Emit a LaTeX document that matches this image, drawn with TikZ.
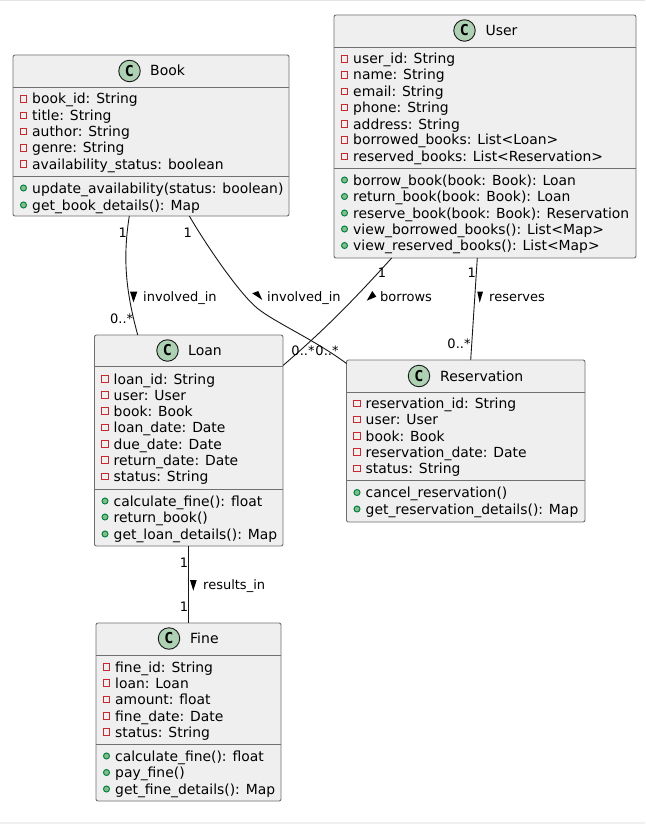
\documentclass[tikz,border=0pt]{standalone}
\usepackage{fontspec}
\setmainfont{DejaVu Sans}
\newfontfamily\iconfont{DejaVu Sans Mono}
\usetikzlibrary{calc}
\definecolor{boxfill}{HTML}{EFEFEF}
\definecolor{boxline}{HTML}{707070}
\definecolor{edgecol}{HTML}{181818}
\definecolor{circfill}{HTML}{ADD1B2}
\definecolor{privcol}{HTML}{C82930}
\definecolor{pubfill}{HTML}{84BE84}
\definecolor{publine}{HTML}{038048}
\tikzset{
  x=1pt,y=-1pt,
  classbox/.style={draw=boxline,fill=boxfill,line width=.9pt,rounded corners=2pt,anchor=north west,inner sep=0pt,outer sep=0pt},
  divider/.style={draw=boxline,line width=.9pt},
  member/.style={anchor=base west,inner sep=0pt,font=\fontsize{13.9}{16}\selectfont,text=black},
  titletext/.style={anchor=base west,inner sep=0pt,font=\fontsize{14}{16}\selectfont,text=black},
  privmark/.style={rectangle,draw=privcol,line width=1pt,fill=none,minimum width=6.2pt,minimum height=6.2pt,inner sep=0pt},
  pubmark/.style={circle,draw=publine,line width=1pt,fill=pubfill,minimum size=6pt,inner sep=0pt},
  cicon/.style={circle,draw=edgecol,line width=.9pt,fill=circfill,minimum size=21.5pt,inner sep=0pt,font=\iconfont\fontsize{15}{15}\selectfont\bfseries,text=black},
  edge/.style={draw=edgecol,line width=.9pt},
  elabel/.style={anchor=base west,inner sep=0pt,font=\fontsize{13}{15}\selectfont,text=black},
  mult/.style={anchor=base,inner sep=0pt,font=\fontsize{13}{15}\selectfont,text=black},
  dirmark/.style={fill=black,draw=none},
  toprule/.style={draw=black!11,line width=1pt},
  botrule/.style={draw=black!6,line width=1.5pt},
}
% \classnode{name}{x}{y}{w}{h}{icon x}{title x}{title centre y}{title}
\newcommand{\classnode}[9]{%
  \node[classbox,minimum width=#4pt,minimum height=#5pt] (#1) at (#2,#3) {};
  \node[cicon] (#1icon) at (#6,#8) {C};
  \node[titletext] (#1title) at (#7,#8+5) {#9};
}
\newcommand{\dividers}[3]{%
  \draw[divider] (#1.west |- 0,#2) -- (#1.east |- 0,#2);
  \draw[divider] (#1.west |- 0,#3) -- (#1.east |- 0,#3);
}
\newcommand{\priv}[4]{%
  \node[privmark] (#1m) at (#2+10.5,#3) {};
  \node[member] (#1) at (#2+19,#3+5) {#4};
}
\newcommand{\pub}[4]{%
  \node[pubmark] (#1m) at (#2+10.5,#3) {};
  \node[member] (#1) at (#2+19,#3+5) {#4};
}
\begin{document}
\begin{tikzpicture}
\useasboundingbox (0,0) rectangle (645,824);
\fill[white] (0,0) rectangle (645,824);
\draw[toprule] (0,.5) -- (645,.5);
\draw[botrule] (0,823) -- (645,823);

% Book
\classnode{book}{13}{55}{276}{161}{129.5}{150}{71}{Book}
\dividers{book}{87}{176}
\priv{b1}{13}{99}{book\_id: String}
\priv{b2}{13}{115.5}{title: String}
\priv{b3}{13}{131.5}{author: String}
\priv{b4}{13}{148}{genre: String}
\priv{b5}{13}{164}{availability\_status: boolean}
\pub{b6}{13}{188}{update\_availability(status: boolean)}
\pub{b7}{13}{205}{get\_book\_details(): Map}

% User
\classnode{user}{334}{15}{302}{243}{464.5}{485.3}{30.5}{User}
\dividers{user}{47}{168}
\priv{u1}{334}{59}{user\_id: String}
\priv{u2}{334}{75}{name: String}
\priv{u3}{334}{91.5}{email: String}
\priv{u4}{334}{107.5}{phone: String}
\priv{u5}{334}{124}{address: String}
\priv{u6}{334}{140}{borrowed\_books: List<Loan>}
\priv{u7}{334}{156.5}{reserved\_books: List<Reservation>}
\pub{u8}{334}{180}{borrow\_book(book: Book): Loan}
\pub{u9}{334}{196.5}{return\_book(book: Book): Loan}
\pub{u10}{334}{213}{reserve\_book(book: Book): Reservation}
\pub{u11}{334}{229}{view\_borrowed\_books(): List<Map>}
\pub{u12}{334}{245.5}{view\_reserved\_books(): List<Map>}

% Loan
\classnode{loan}{94.5}{335}{188.5}{211}{167.5}{188}{350.5}{Loan}
\dividers{loan}{366.5}{489}
\priv{l1}{94.5}{379}{loan\_id: String}
\priv{l2}{94.5}{395}{user: User}
\priv{l3}{94.5}{411}{book: Book}
\priv{l4}{94.5}{427.5}{loan\_date: Date}
\priv{l5}{94.5}{444}{due\_date: Date}
\priv{l6}{94.5}{460}{return\_date: Date}
\priv{l7}{94.5}{476.5}{status: String}
\pub{l8}{94.5}{501}{calculate\_fine(): float}
\pub{l9}{94.5}{517}{return\_book()}
\pub{l10}{94.5}{534}{get\_loan\_details(): Map}

% Reservation
\classnode{res}{346.5}{360}{238.5}{162}{419}{440}{376}{Reservation}
\dividers{res}{392}{480}
\priv{r1}{346.5}{403.5}{reservation\_id: String}
\priv{r2}{346.5}{419.5}{user: User}
\priv{r3}{346.5}{436}{book: Book}
\priv{r4}{346.5}{452}{reservation\_date: Date}
\priv{r5}{346.5}{468.5}{status: String}
\pub{r6}{346.5}{492.5}{cancel\_reservation()}
\pub{r7}{346.5}{509}{get\_reservation\_details(): Map}

% Fine
\classnode{fine}{96}{623}{185}{178}{169}{190}{638.5}{Fine}
\dividers{fine}{655}{744}
\priv{f1}{96}{667}{fine\_id: String}
\priv{f2}{96}{683}{loan: Loan}
\priv{f3}{96}{699.5}{amount: float}
\priv{f4}{96}{716}{fine\_date: Date}
\priv{f5}{96}{732}{status: String}
\pub{f6}{96}{756}{calculate\_fine(): float}
\pub{f7}{96}{772.5}{pay\_fine()}
\pub{f8}{96}{789}{get\_fine\_details(): Map}

% Connector ends, fixed on the box edges
\coordinate (bookL) at (book.south west -| 129.3,0);
\coordinate (bookR) at (book.south west -| 189.3,0);
\coordinate (loanT) at (loan.north west -| 137.7,0);
\coordinate (resW) at (res.north west |- 0,363.5);
\coordinate (userL) at (user.south west -| 391.7,0);
\coordinate (userR) at (user.south west -| 477.3,0);
\coordinate (loanE) at (loan.north east |- 0,365.5);
\coordinate (resT) at (res.north west -| 470.7,0);
\coordinate (loanB) at (loan.south west -| 188.5,0);
\coordinate (fineT) at (fine.north west -| 188.5,0);

\draw[edge] (bookL) .. controls (122,262) and (127,295) .. (loanT);
\draw[edge] (bookR) .. controls (205,243) and (238,292) .. (257,308) .. controls (274,322) and (315,340) .. (resW);
\draw[edge] (userL) .. controls (358,295) and (330,325) .. (loanE);
\draw[edge] (userR) -- (resT);
\draw[edge] (loanB) -- (fineT);

% Multiplicities
\node[mult] (m1) at (122.7,237) {1};
\node[mult] (m2) at (121.7,323) {0..*};
\node[mult] (m3) at (187.7,237) {1};
\node[mult] (m4) at (303,355) {0..*};
\node[mult] (m5) at (327,355) {0..*};
\node[mult] (m6) at (382,277) {1};
\node[mult] (m7) at (471.7,277) {1};
\node[mult] (m8) at (459,348) {0..*};
\node[mult] (m9) at (184,567) {1};
\node[mult] (m10) at (184,611) {1};

% Edge labels with direction marks
\fill[dirmark] (130,291.7) -- (137.3,291.7) -- (133.5,302.3) -- cycle;
\node[elabel] (e1) at (143,301.5) {involved\_in};
\fill[dirmark] (252.3,293.3) -- (258.3,291) -- (262.3,300) -- cycle;
\node[elabel] (e2) at (267,301.5) {involved\_in};
\fill[dirmark] (366.7,300.7) -- (372.3,291) -- (376.3,296.7) -- cycle;
\node[elabel] (e3) at (380,301.5) {borrows};
\fill[dirmark] (477.3,291.7) -- (483,291.7) -- (479.7,302.7) -- cycle;
\node[elabel] (e4) at (489,301.5) {reserves};
\fill[dirmark] (190,580) -- (196.7,580) -- (193.3,590.7) -- cycle;
\node[elabel] (e5) at (203,589.5) {results\_in};
\end{tikzpicture}
\end{document}
